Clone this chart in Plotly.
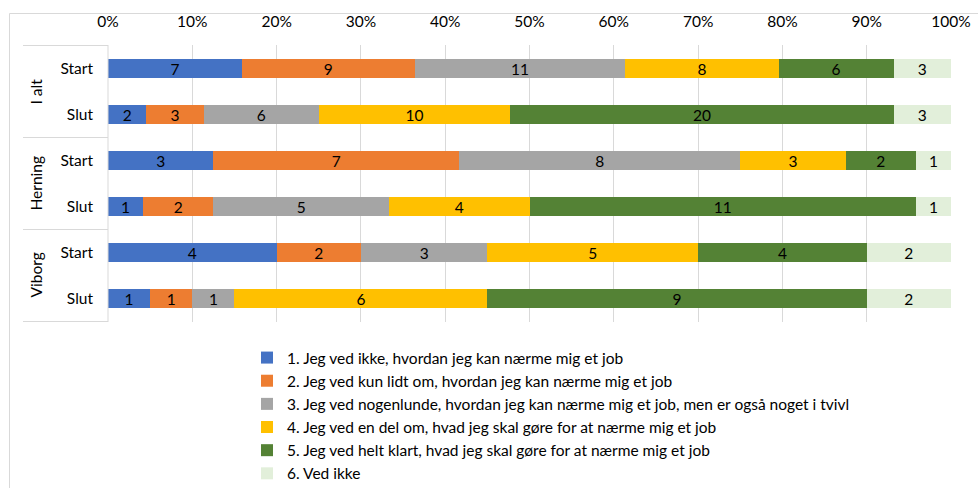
import plotly.graph_objects as go

groups = ["I alt", "Herning", "Viborg"]
periods = ["Start", "Slut"]
series_names = [
    "1. Jeg ved ikke, hvordan jeg kan nærme mig et job",
    "2. Jeg ved kun lidt om, hvordan jeg kan nærme mig et job",
    "3. Jeg ved nogenlunde, hvordan jeg kan nærme mig et job, men er også noget i tvivl",
    "4. Jeg ved en del om, hvad jeg skal gøre for at nærme mig et job",
    "5. Jeg ved helt klart, hvad jeg skal gøre for at nærme mig et job",
    "6. Ved ikke",
]
colors = ["#4472C4", "#ED7D31", "#A5A5A5", "#FFC000", "#548235", "#E2EFDA"]

# counts per row: I alt Start, I alt Slut, Herning Start, Herning Slut, Viborg Start, Viborg Slut
s1 = [7, 2, 3, 1, 4, 1]
s2 = [9, 3, 7, 2, 2, 1]
s3 = [11, 6, 8, 5, 3, 1]
s4 = [8, 10, 3, 4, 5, 6]
s5 = [6, 20, 2, 11, 4, 9]
s6 = [3, 3, 1, 1, 2, 2]
series = [s1, s2, s3, s4, s5, s6]

row_labels = [p for g in groups for p in periods]
ypos = list(range(len(row_labels)))
totals = [sum(s[i] for s in series) for i in ypos]

FONT = "Lato"
FS = 15.5
fig = go.Figure()
for name, vals, col in zip(series_names, series, colors):
    fig.add_trace(go.Bar(
        y=ypos, x=[v / t * 100 for v, t in zip(vals, totals)],
        orientation="h", name=name, marker=dict(color=col, line=dict(width=0)),
        text=[str(v) for v in vals], textposition="inside", insidetextanchor="middle",
        textangle=0, constraintext="none",
        textfont=dict(color="#000000", size=FS, family=FONT),
        hoverinfo="skip",
    ))

L, R, T, B = 108, 27, 45, 166
W, H = 978, 488
pw, ph = W - L - R, H - T - B
def px2x(px): return (px - L) / pw
def py2y(py): return (H - B - py) / ph

shapes = [
    dict(type="rect", xref="paper", yref="paper", x0=px2x(9.5), x1=px2x(1000),
         y0=py2y(520), y1=py2y(13.5), line=dict(color="#D9D9D9", width=1), layer="below"),
    dict(type="line", xref="paper", yref="paper", x0=0, x1=0, y0=0, y1=1,
         line=dict(color="#D9D9D9", width=1)),
]
for b in [-0.5, 1.5, 3.5, 5.5]:
    shapes.append(dict(type="line", xref="paper", yref="y", x0=px2x(23), x1=0,
                       y0=b, y1=b, line=dict(color="#D9D9D9", width=1)))

annotations = []
for gi, g in enumerate(groups):
    annotations.append(dict(text=g, xref="paper", yref="y", x=px2x(35), y=gi * 2 + 0.5,
                            xanchor="center", yanchor="middle",
                            textangle=-90, showarrow=False,
                            font=dict(size=FS, family=FONT, color="#000000")))

fig.update_layout(
    width=W, height=H, barmode="stack", bargap=0.59,
    margin=dict(l=L, r=R, t=T, b=B, autoexpand=False),
    paper_bgcolor="white", plot_bgcolor="white",
    font=dict(family=FONT, size=FS, color="#000000"),
    xaxis=dict(side="top", range=[0, 100], dtick=10, ticksuffix="%", automargin=False,
               showgrid=True, gridcolor="#D9D9D9", zeroline=False, showline=False,
               tickfont=dict(size=FS, family=FONT, color="#000000"),
               ticklabelstandoff=14, fixedrange=True),
    yaxis=dict(tickvals=ypos, ticktext=row_labels, autorange="reversed", automargin=False,
               range=[5.5, -0.5], showgrid=False, zeroline=False, showline=False,
               tickfont=dict(size=FS, family=FONT, color="#000000"),
               ticklabelstandoff=14, fixedrange=True),
    legend=dict(orientation="v", x=px2x(247), y=py2y(341), xanchor="left", yanchor="top",
                traceorder="normal", font=dict(size=FS, family=FONT, color="#000000"),
                itemwidth=30, tracegroupgap=0),
    shapes=shapes, annotations=annotations, showlegend=True,
)
fig.write_html("out.html", config={"displayModeBar": False},
               post_script="document.body.style.margin='0';document.body.style.overflow='hidden';")
